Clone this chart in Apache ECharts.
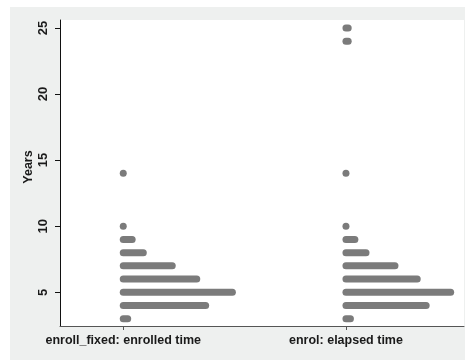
<!DOCTYPE html>
<html>
<head>
<meta charset="utf-8">
<script src="https://cdn.jsdelivr.net/npm/echarts@6/dist/echarts.min.js"></script>
<style>
  html, body { margin: 0; padding: 0; background: #fff; }
  #main { width: 465px; height: 360px; }
</style>
</head>
<body>
<div id="main"></div>
<script>
// distinct year values (y) and how many observations sit on each, per variable
const years = [3, 4, 5, 6, 7, 8, 9, 10, 14, 24, 25]
const enrolledCounts = [3, 38, 50, 34, 23, 10, 5, 1, 1, 0, 0]
const elapsedCounts = [3, 37, 48, 33, 23, 10, 5, 1, 1, 2, 2]
const categories = ['enroll_fixed: enrolled time', 'enrol: elapsed time']
const yTicks = [5, 10, 15, 20, 25]

// horizontal distance between stacked dots, in x units
const dotStep = 0.01
const dotR = 3.5

const rows = []
;[enrolledCounts, elapsedCounts].forEach((counts, ci) => {
  years.forEach((y, i) => {
    if (counts[i] > 0) rows.push([ci + 1, y, counts[i]])
  })
})

const chart = echarts.init(document.getElementById('main'))
chart.setOption({
  backgroundColor: '#ffffff',
  animation: false,
  textStyle: { fontFamily: 'Liberation Sans, Arial, sans-serif' },
  graphic: [{
    type: 'rect',
    z: -10,
    shape: { x: 10, y: 7, width: 455, height: 353 },
    style: { fill: '#eef0ef' },
  }],
  grid: {
    left: 60,
    right: 1,
    top: 20,
    bottom: 34,
    show: true,
    backgroundColor: '#ffffff',
    borderWidth: 0,
  },
  xAxis: {
    type: 'value',
    min: 0.716,
    max: 2.53,
    splitLine: { show: false },
    axisLine: { show: true, lineStyle: { color: '#555', width: 1 } },
    axisTick: { show: true, length: 4, customValues: [1, 2], lineStyle: { color: '#555' } },
    axisLabel: {
      customValues: [1, 2],
      formatter: v => categories[Math.round(v) - 1],
      margin: 8,
      fontSize: 12.5,
      fontWeight: 'bold',
      color: '#1a1a1a',
    },
  },
  yAxis: {
    type: 'value',
    min: 2.45,
    max: 25.6,
    name: 'Years',
    nameLocation: 'middle',
    nameGap: 25,
    nameRotate: 90,
    nameMoveOverlap: false,
    nameTextStyle: { fontSize: 12.5, fontWeight: 'bold', color: '#1a1a1a', padding: [0, 0, 0, 12] },
    splitLine: { show: false },
    axisLine: { show: true, lineStyle: { color: '#111', width: 1 } },
    axisTick: { show: true, length: 5, customValues: yTicks, lineStyle: { color: '#111' } },
    axisLabel: {
      customValues: yTicks,
      rotate: 90,
      margin: 10,
      fontSize: 13,
      fontWeight: 'bold',
      color: '#1a1a1a',
    },
  },
  series: [{
    type: 'custom',
    data: rows,
    renderItem: (params, api) => {
      const x0 = api.value(0)
      const y = api.value(1)
      const n = api.value(2)
      const p0 = api.coord([x0, y])
      const p1 = api.coord([x0 + (n - 1) * dotStep, y])
      return {
        type: 'rect',
        shape: {
          x: p0[0] - dotR,
          y: p0[1] - dotR,
          width: p1[0] - p0[0] + 2 * dotR,
          height: 2 * dotR,
          r: dotR,
        },
        style: { fill: '#7b7b7b' },
      }
    },
  }],
})
</script>
</body>
</html>
